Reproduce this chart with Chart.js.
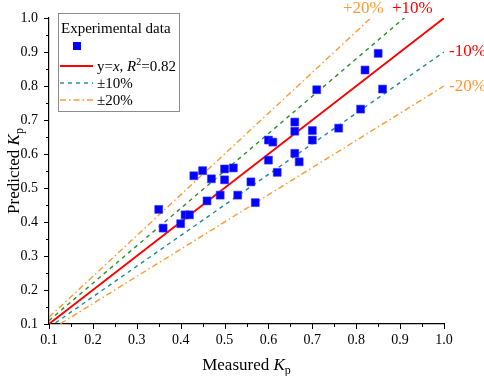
<!DOCTYPE html>
<html>
<head>
<meta charset="utf-8">
<script src="https://cdn.jsdelivr.net/npm/chart.js@4/dist/chart.umd.min.js"></script>
<style>
  html, body { margin: 0; padding: 0; background: #fff; }
  #wrap { width: 484px; height: 376px; }
</style>
</head>
<body>
<div id="wrap"><canvas id="kpChart" width="484" height="376"></canvas></div>
<script>
// measured vs predicted Kp
const measured = [0.35, 0.36, 0.40, 0.41, 0.42, 0.46, 0.43, 0.45, 0.47, 0.49, 0.50, 0.50,
                  0.52, 0.53, 0.56, 0.57, 0.60, 0.60, 0.61, 0.62, 0.66, 0.66, 0.66, 0.67,
                  0.70, 0.70, 0.71, 0.76, 0.81, 0.82, 0.85, 0.86];
const predicted = [0.437, 0.382, 0.395, 0.421, 0.421, 0.462, 0.536, 0.551, 0.527, 0.479, 0.556, 0.524,
                   0.559, 0.479, 0.518, 0.457, 0.582, 0.641, 0.635, 0.546, 0.694, 0.667, 0.602, 0.577,
                   0.669, 0.641, 0.789, 0.676, 0.732, 0.847, 0.896, 0.791];

// reference lines y = k * x
const lineRange = [0.1, 1.0];
const lineRatios = [1.0, 1.1, 0.9, 1.2, 0.8];
const lineColors = ['#ff0000', '#2a8f2a', '#1c8c8c', '#ff9933', '#ff9933'];
const lineDashes = [[], [4, 4], [4, 4], [6, 3, 1.5, 3], [6, 3, 1.5, 3]];
const tickLabels = ['0.1', '0.2', '0.3', '0.4', '0.5', '0.6', '0.7', '0.8', '0.9', '1.0'];

const serif = "'Liberation Serif', 'DejaVu Serif', serif";
Chart.defaults.font.family = serif;
Chart.defaults.font.size = 14;
Chart.defaults.color = '#000';

const datasets = [{
    type: 'scatter',
    label: 'Experimental data',
    data: measured.map((m, i) => ({ x: m, y: predicted[i] })),
    pointStyle: 'rect',
    pointRadius: 5.6,
    backgroundColor: '#0000ff',
    borderColor: '#3333ff',
    borderWidth: 0.6
}];
lineRatios.forEach((k, i) => {
    datasets.push({
        type: 'line',
        data: lineRange.map(x => ({ x: x, y: k * x })),
        borderColor: lineColors[i],
        borderWidth: i === 0 ? 1.8 : 1.4,
        borderDash: lineDashes[i],
        pointRadius: 0,
        fill: false
    });
});

function drawRich(ctx, parts, x, y) {
    // parts: [text, size, italic, dy]
    let cx = x;
    parts.forEach(p => {
        ctx.font = (p[2] ? 'italic ' : '') + p[1] + 'px ' + serif;
        ctx.fillText(p[0], cx, y + (p[3] || 0));
        cx += ctx.measureText(p[0]).width;
    });
    return cx - x;
}

function richWidth(ctx, parts) {
    let w = 0;
    parts.forEach(p => {
        ctx.font = (p[2] ? 'italic ' : '') + p[1] + 'px ' + serif;
        w += ctx.measureText(p[0]).width;
    });
    return w;
}

const decorations = {
    id: 'decorations',
    afterDraw(chart) {
        const ctx = chart.ctx;
        const xs = chart.scales.x, ys = chart.scales.y;
        const area = chart.chartArea;
        ctx.save();

        // major + minor ticks, outward
        ctx.strokeStyle = '#000';
        ctx.lineWidth = 1;
        for (let i = 2; i <= 20; i++) {
            const v = i * 0.05;
            const len = i % 2 === 0 ? 5 : 3;
            const px = Math.round(xs.getPixelForValue(v)) + 0.5;
            ctx.beginPath();
            ctx.moveTo(px, area.bottom);
            ctx.lineTo(px, area.bottom + len);
            ctx.stroke();
            const py = Math.round(ys.getPixelForValue(v)) + 0.5;
            ctx.beginPath();
            ctx.moveTo(area.left, py);
            ctx.lineTo(area.left - len, py);
            ctx.stroke();
        }

        // axis titles
        ctx.fillStyle = '#000';
        ctx.textBaseline = 'alphabetic';
        ctx.textAlign = 'left';
        const xTitle = [['Measured ', 17, false], ['K', 17, true], ['p', 12, false, 4]];
        const xw = richWidth(ctx, xTitle);
        drawRich(ctx, xTitle, (area.left + area.right) / 2 - xw / 2, 370);

        const yTitle = [['Predicted ', 17, false], ['K', 17, true], ['p', 12, false, 4]];
        const yw = richWidth(ctx, yTitle);
        ctx.save();
        ctx.translate(19, (area.top + area.bottom) / 2);
        ctx.rotate(-Math.PI / 2);
        drawRich(ctx, yTitle, -yw / 2, 0);
        ctx.restore();

        // legend box
        ctx.fillStyle = '#fff';
        ctx.fillRect(58, 13, 121, 98);
        ctx.strokeStyle = '#8c8c8c';
        ctx.lineWidth = 1;
        ctx.strokeRect(58.5, 13.5, 121, 98);
        ctx.fillStyle = '#000';
        ctx.font = '15px ' + serif;
        ctx.fillText('Experimental data', 61, 33);
        ctx.fillStyle = '#0000ff';
        ctx.fillRect(73, 42, 8, 8);

        const legendLines = [[0, 66], [2, 83], [3, 100]];
        legendLines.forEach(l => {
            const c = l[0];
            ctx.strokeStyle = lineColors[c];
            ctx.lineWidth = c === 0 ? 1.8 : 1.4;
            ctx.setLineDash(lineDashes[c]);
            ctx.beginPath();
            ctx.moveTo(60, l[1]);
            ctx.lineTo(93, l[1]);
            ctx.stroke();
        });
        ctx.setLineDash([]);
        ctx.fillStyle = '#000';
        drawRich(ctx, [['y=', 15], ['x', 15, true], [', ', 15], ['R', 15, true], ['2', 10, false, -6], ['=0.82', 15]], 97, 71);
        ctx.font = '15px ' + serif;
        ctx.fillText('\u00b110%', 97, 88);
        ctx.fillText('\u00b120%', 97, 105);

        // percentage labels
        ctx.font = '17px ' + serif;
        ctx.fillStyle = '#ff9933';
        ctx.fillText('+20%', 343, 13);
        ctx.fillText('-20%', 449, 91);
        ctx.fillStyle = '#ff0000';
        ctx.fillText('+10%', 392, 13);
        ctx.fillText('-10%', 449, 56);

        ctx.restore();
    }
};

const axisCommon = {
    type: 'linear',
    min: 0.1,
    max: 1.0,
    grid: { display: true, drawOnChartArea: false, drawTicks: true, tickLength: 5, color: 'rgba(0,0,0,0)' },
    border: { display: true, color: '#000', width: 1.2 },
    ticks: {
        stepSize: 0.1,
        color: '#000',
        font: { family: serif, size: 14 },
        callback: (v) => tickLabels[Math.round(v * 10) - 1] || ''
    }
};

new Chart(document.getElementById('kpChart').getContext('2d'), {
    type: 'scatter',
    data: { datasets: datasets },
    options: {
        responsive: false,
        animation: false,
        layout: { padding: { top: 18, right: 40, left: 0, bottom: 0 } },
        plugins: { legend: { display: false }, tooltip: { enabled: false } },
        scales: {
            x: Object.assign({}, axisCommon, {
                ticks: Object.assign({}, axisCommon.ticks, { padding: 3, maxRotation: 0 }),
                afterFit: (s) => { s.height = 52; }
            }),
            y: Object.assign({}, axisCommon, {
                ticks: Object.assign({}, axisCommon.ticks, { padding: 6 }),
                afterFit: (s) => { s.width = 49; }
            })
        }
    },
    plugins: [decorations]
});
</script>
</body>
</html>
